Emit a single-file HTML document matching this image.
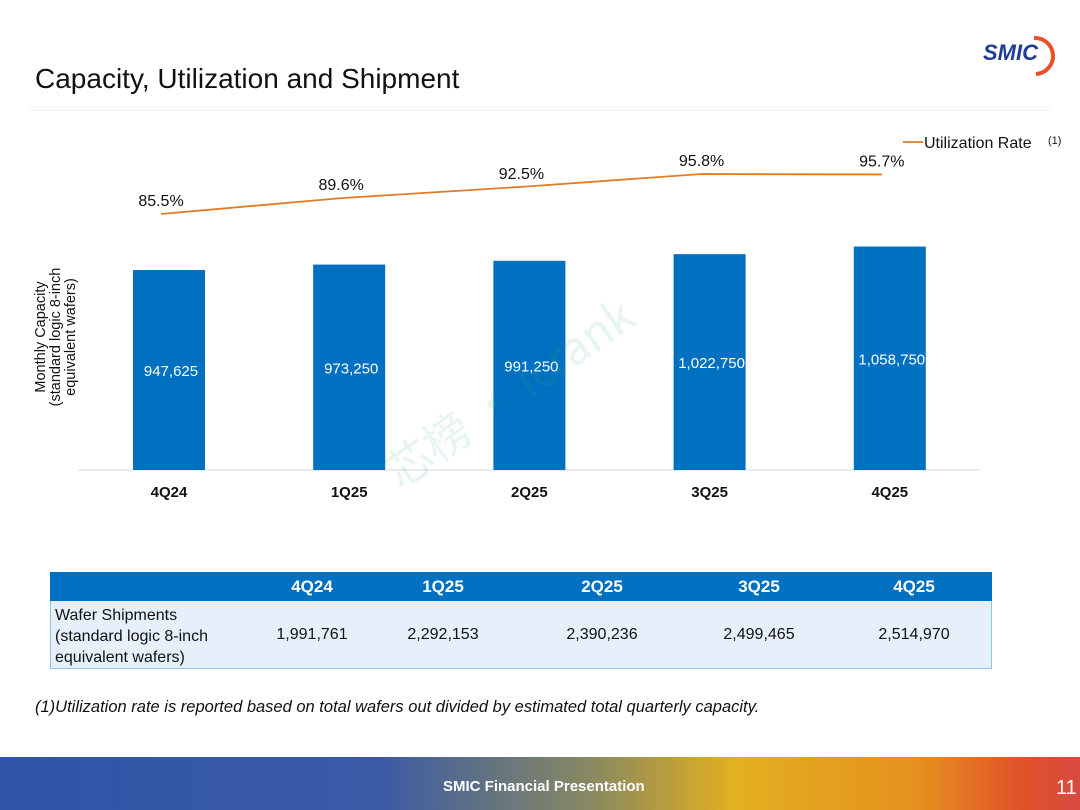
<!DOCTYPE html>
<html><head><meta charset="utf-8"><style>
body{margin:0;width:1080px;height:810px;position:relative;background:#fff;font-family:"Liberation Sans",Arial,sans-serif;overflow:hidden}
.abs{position:absolute}
</style></head><body>
<div class="abs" style="left:35px;top:63px;font-size:28px;color:#111">Capacity, Utilization and Shipment</div>
<div class="abs" style="left:30px;top:110px;width:1020px;height:1px;background:#eee"></div>
<div class="abs" style="left:983px;top:40px;font-size:22px;font-weight:bold;font-style:italic;color:#1f3c9c">SMIC</div>
<svg class="abs" style="left:1030px;top:34px" width="26" height="44"><path d="M4 4 A18 18 0 0 1 6 40" fill="none" stroke="#e8502a" stroke-width="4"/></svg>

<svg id="chart" class="abs" style="left:0;top:0" width="1080" height="560"></svg>

<div class="abs" style="left:50px;top:572px;width:942px;height:29px;background:#0070c0"></div>
<div class="abs" style="left:50px;top:601px;width:940px;height:67px;background:#e6f0fa;border:1px solid #8fc7e0;border-top:none"></div>
<div class="abs" style="left:55px;top:605px;font-size:16px;line-height:21px;color:#111">Wafer Shipments<br>(standard logic 8-inch<br>equivalent wafers)</div>
<div id="tbl"></div>

<div class="abs" style="left:35px;top:698px;font-size:16.5px;font-style:italic;color:#111">(1)Utilization rate is reported based on total wafers out divided by estimated total quarterly capacity.</div>

<div class="abs" style="left:0;top:757px;width:1080px;height:53px;background:linear-gradient(90deg,#2f55a8 0%,#3a5aa6 35%,#8a8a60 55%,#e3b020 68%,#e6901e 85%,#e0502a 95%,#d84a40 100%)"></div>
<div class="abs" style="left:443px;top:778px;font-size:15px;font-weight:bold;color:#fff">SMIC Financial Presentation</div>
<div class="abs" style="left:1056px;top:777px;font-size:20px;color:#fff">11</div>

<script>
const categories=["4Q24","1Q25","2Q25","3Q25","4Q25"];
const capacity=[947625,973250,991250,1022750,1058750];
const utilization=[85.5,89.6,92.5,95.8,95.7];
const shipments=["1,991,761","2,292,153","2,390,236","2,499,465","2,514,970"];
const NS="http://www.w3.org/2000/svg";
const svg=document.getElementById('chart');
const base=470;
const xC=i=>169+i*180.2;
const yBar=v=>base-v*200/947625;
const yLine=v=>214-(v-85.5)*3.88;
function mk(t,a,txt){const e=document.createElementNS(NS,t);for(const k in a)e.setAttribute(k,a[k]);if(txt!=null)e.textContent=txt;svg.appendChild(e);return e;}
const ax=mk('line',{x1:78,x2:980,y1:base,y2:base,stroke:'#d9d9d9'});


const yt=mk('text',{transform:'translate(45,337) rotate(-90)','text-anchor':'middle','font-size':14.5,fill:'#111'});


[["Monthly Capacity",0],["(standard logic 8-inch",15],["equivalent wafers)",30]].forEach(([s,d])=>{const t=document.createElementNS(NS,'tspan');t.setAttribute('x',0);t.setAttribute('y',d);t.textContent=s;yt.appendChild(t);});
capacity.forEach((v,i)=>{
  const y=yBar(v);
  const r=mk('rect',{x:xC(i)-36,y:y,width:72,height:base-y,fill:'#0070c0'});
  
  
  const t=mk('text',{x:xC(i)+2,y:(y+base)/2+6,'text-anchor':'middle','font-size':15,fill:'#fff'},v.toLocaleString('en-US'));
  
  
  const c=mk('text',{x:xC(i),y:497,'text-anchor':'middle','font-size':15,'font-weight':'bold',fill:'#111'},categories[i]);
  
  
});
const pl=mk('polyline',{points:utilization.map((v,i)=>xC(i)-8+','+yLine(v)).join(' '),fill:'none',stroke:'#e07b28','stroke-width':1.8});


utilization.forEach((v,i)=>{
  const t=mk('text',{x:xC(i)-8,y:yLine(v)-8,'text-anchor':'middle','font-size':16,fill:'#111'},v.toFixed(1)+'%');
  
  
});
const lg=mk('line',{x1:903,x2:923,y1:142,y2:142,stroke:'#e07b28','stroke-width':1.8});


const lt=mk('text',{x:924,y:148,'font-size':16,fill:'#111'},'Utilization Rate');


const ls=mk('text',{x:1048,y:144,'font-size':11,fill:'#111'},'(1)');


const wm=mk('text',{x:400,y:490,'font-size':46,fill:'#2eb86a','fill-opacity':0.12,transform:'rotate(-35 400 490)','font-family':'"Noto Sans CJK SC",sans-serif'},'芯榜 · icrank');



const tbl=document.getElementById('tbl');
const tx=[312,443,602,759,914];
categories.forEach((c,i)=>{
  const h=document.createElement('div');
  h.className='abs';h.style.cssText=`left:${tx[i]-50}px;width:100px;text-align:center;top:577px;font-size:17px;font-weight:bold;color:#fff`;
  h.textContent=c;
  
  
  tbl.appendChild(h);
  const d=document.createElement('div');
  d.className='abs';d.style.cssText=`left:${tx[i]-60}px;width:120px;text-align:center;top:626px;font-size:16px;color:#111`;
  d.textContent=shipments[i];
  
  
  tbl.appendChild(d);
});
</script>
</body></html>
